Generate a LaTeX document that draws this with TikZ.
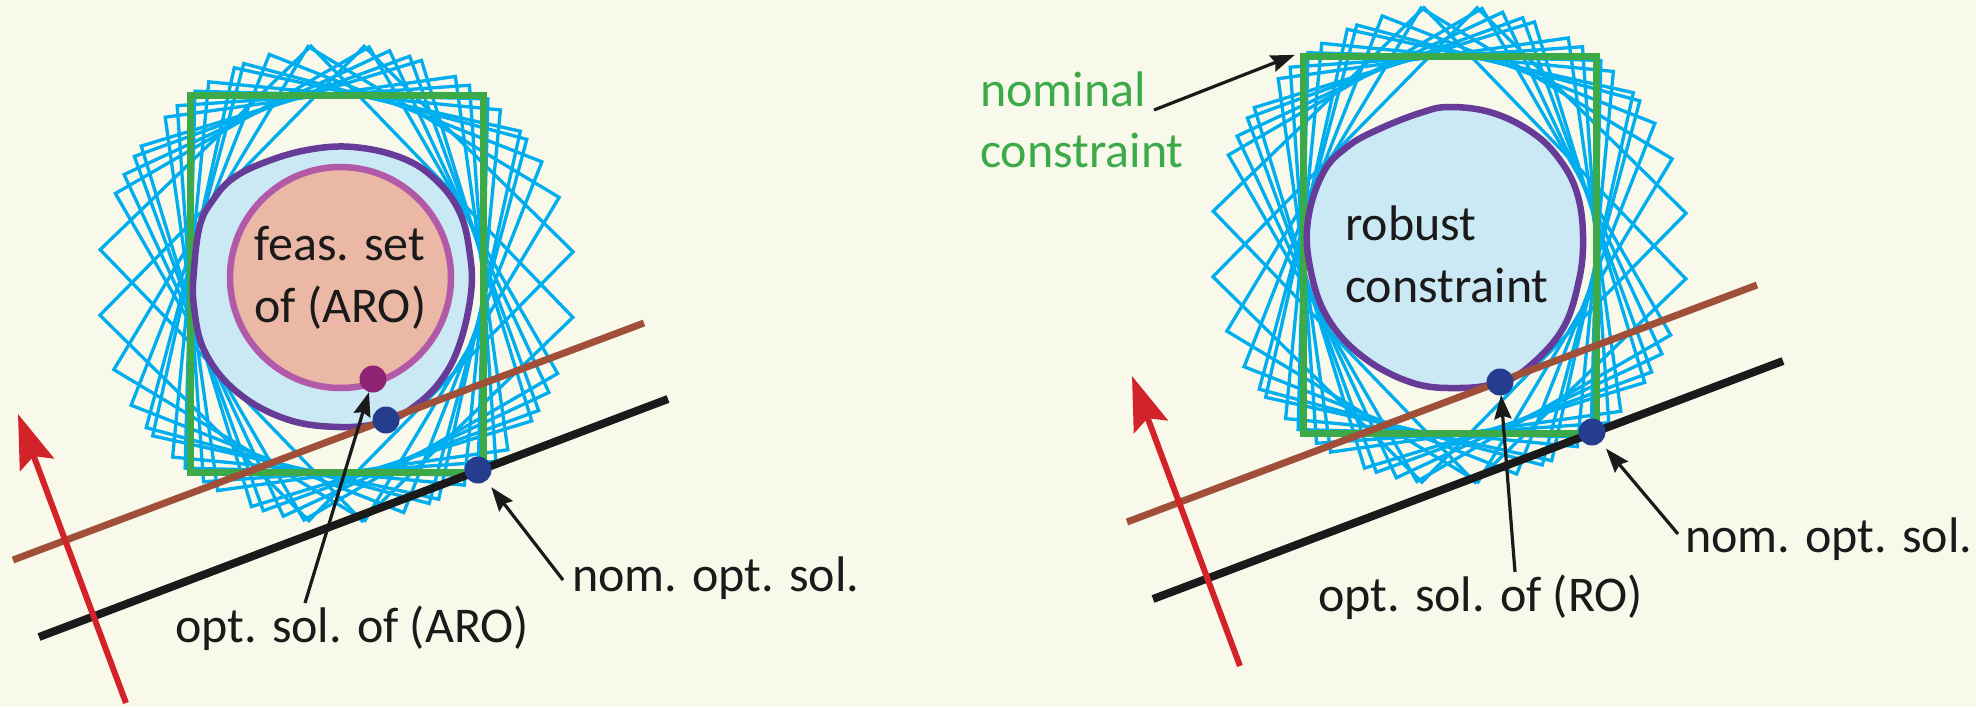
\documentclass[tikz,border=0pt]{standalone}
\usepackage{fontspec}
\setmainfont{Carlito}
\usetikzlibrary{arrows.meta}
\definecolor{bg}{HTML}{F8F8EB}
\definecolor{cyanl}{HTML}{00AEEF}
\definecolor{nomgreen}{HTML}{3CAA48}
\definecolor{blobfill}{HTML}{CBE9F5}
\definecolor{blobline}{HTML}{673C99}
\definecolor{feasfill}{HTML}{EBB8A6}
\definecolor{feasline}{HTML}{B25AA8}
\definecolor{dotmag}{HTML}{8E2373}
\definecolor{dotblue}{HTML}{243D8E}
\definecolor{brownl}{HTML}{A04F38}
\definecolor{redl}{HTML}{D2222A}
\definecolor{blackl}{HTML}{1A1A1A}
\tikzset{
  rotbox/.style={draw=cyanl, line width=3.3pt, line join=miter},
  nombox/.style={draw=nomgreen, line width=7pt, rectangle, inner sep=0pt, minimum width=293pt, minimum height=377pt},
  robset/.style={draw=blobline, fill=blobfill, line width=6.5pt},
  feasset/.style={draw=feasline, fill=feasfill, line width=6.5pt, circle, inner sep=0pt, minimum size=221pt},
  soldot/.style={circle, inner sep=0pt, minimum size=27pt, fill=#1},
  objline/.style={draw=brownl, line width=7pt},
  levelline/.style={draw=blackl, line width=8pt},
  gradarrow/.style={draw=redl, line width=6pt, -{Stealth[length=54pt, width=36pt, inset=9pt]}},
  annot/.style={draw=blackl, line width=3.2pt, -{Stealth[length=24pt, width=17pt, inset=3pt]}},
  lbl/.style={inner sep=0pt, anchor=base west, text=blackl, font=\fontsize{50}{62}\selectfont},
  glbl/.style={lbl, text=nomgreen}
}
\newcommand\uncertainboxes{%
  \foreach \a in {-44,-30,-25,-20,-17,-8,-4,1.5,5.5,12.5,15,21.5,31,44.5}{%
    \draw[rotbox, rotate=-\a] (-146.5,-188.5) rectangle (146.5,188.5);}}
\begin{document}
\begin{tikzpicture}[x=1pt,y=-1pt]
\fill[bg] (0,0) rectangle (1976,707);
\useasboundingbox (0,0) rectangle (1976,707);

% ---------------- left panel ----------------
\begin{scope}[shift={(336.5,283.5)}]\uncertainboxes\end{scope}
\node[nombox] (nomL) at (336.5,283.5) {};
\draw[robset] plot[smooth cycle, tension=0.65] coordinates {
  (194,270) (200,225) (213,200) (232,179) (263,163) (307,150) (353,147)
  (402,158) (436,180) (460,213) (470,255) (471,293) (460,343) (442,379)
  (415,406) (384,422) (339,427) (286,419) (237,392) (205,352) (194,307)};
\node[feasset] (feasL) at (340.5,277.5) {};
\node[lbl] (feasLa) at (254,260) {feas. set};
\node[lbl] (feasLb) at (254,322) {of (ARO)};

\coordinate (brLa) at (13,560);
\coordinate (brLb) at (644,323);
\coordinate (bkLa) at (39,637);
\coordinate (bkLb) at (668,399);
\draw[objline] (brLa) -- (brLb);
\draw[levelline] (bkLa) -- (bkLb);
\coordinate (redLtail) at (126,703);
\coordinate (redLtip) at (18,414);
\draw[gradarrow] (redLtail) -- (redLtip);

\node[soldot=dotmag] (aroL) at (373,379) {};
\node[soldot=dotblue] (roL) at (386,420) {};
\node[soldot=dotblue] (nomsolL) at (478,470) {};

\node[lbl] (optLtxt) at (175,642) {opt. sol. of (ARO)};
\node[lbl] (nomLtxt) at (572,591) {nom. opt. sol.};
\coordinate (optLtail) at (305,603);
\coordinate (nomLtail) at (563,580);
\draw[annot] (optLtail) -- (aroL);
\draw[annot, shorten >=8pt] (nomLtail) -- (nomsolL);

% ---------------- right panel ----------------
\begin{scope}[shift={(1449.5,245)}]\uncertainboxes\end{scope}
\node[nombox] (nomR) at (1449.5,245) {};
\draw[robset] plot[smooth cycle, tension=0.65] coordinates {
  (1450,107) (1493,113) (1533,133) (1560,160) (1577,193) (1583,235)
  (1579,280) (1562,330) (1525,370) (1497,383) (1460,388) (1413,383)
  (1363,357) (1327,317) (1310,267) (1308,220) (1323,173) (1347,147)
  (1377,130) (1420,113)};
\node[lbl] (robRa) at (1345,240) {robust};
\node[lbl] (robRb) at (1345,302) {constraint};

\coordinate (brRa) at (1127,522);
\coordinate (brRb) at (1757,285);
\coordinate (bkRa) at (1153,599);
\coordinate (bkRb) at (1783,361);
\draw[objline] (brRa) -- (brRb);
\draw[levelline] (bkRa) -- (bkRb);
\coordinate (redRtail) at (1240,666);
\coordinate (redRtip) at (1132,376);
\draw[gradarrow] (redRtail) -- (redRtip);

\node[soldot=dotblue] (roR) at (1500,382) {};
\node[soldot=dotblue] (nomsolR) at (1592,432) {};

\node[glbl] (nomconA) at (980,106) {nominal};
\node[glbl] (nomconB) at (980,167) {constraint};
\node[lbl] (optRtxt) at (1318,611) {opt. sol. of (RO)};
\node[lbl] (nomRtxt) at (1685,552) {nom. opt. sol.};
\coordinate (nomconTail) at (1154,110);
\coordinate (optRtail) at (1515,572);
\coordinate (nomRtail) at (1678,534);
\draw[annot, shorten >=5pt] (nomconTail) -- (nomR.north west);
\draw[annot, shorten >=13pt] (optRtail) -- (roR.center);
\draw[annot, shorten >=8pt] (nomRtail) -- (nomsolR);
\end{tikzpicture}
\end{document}
